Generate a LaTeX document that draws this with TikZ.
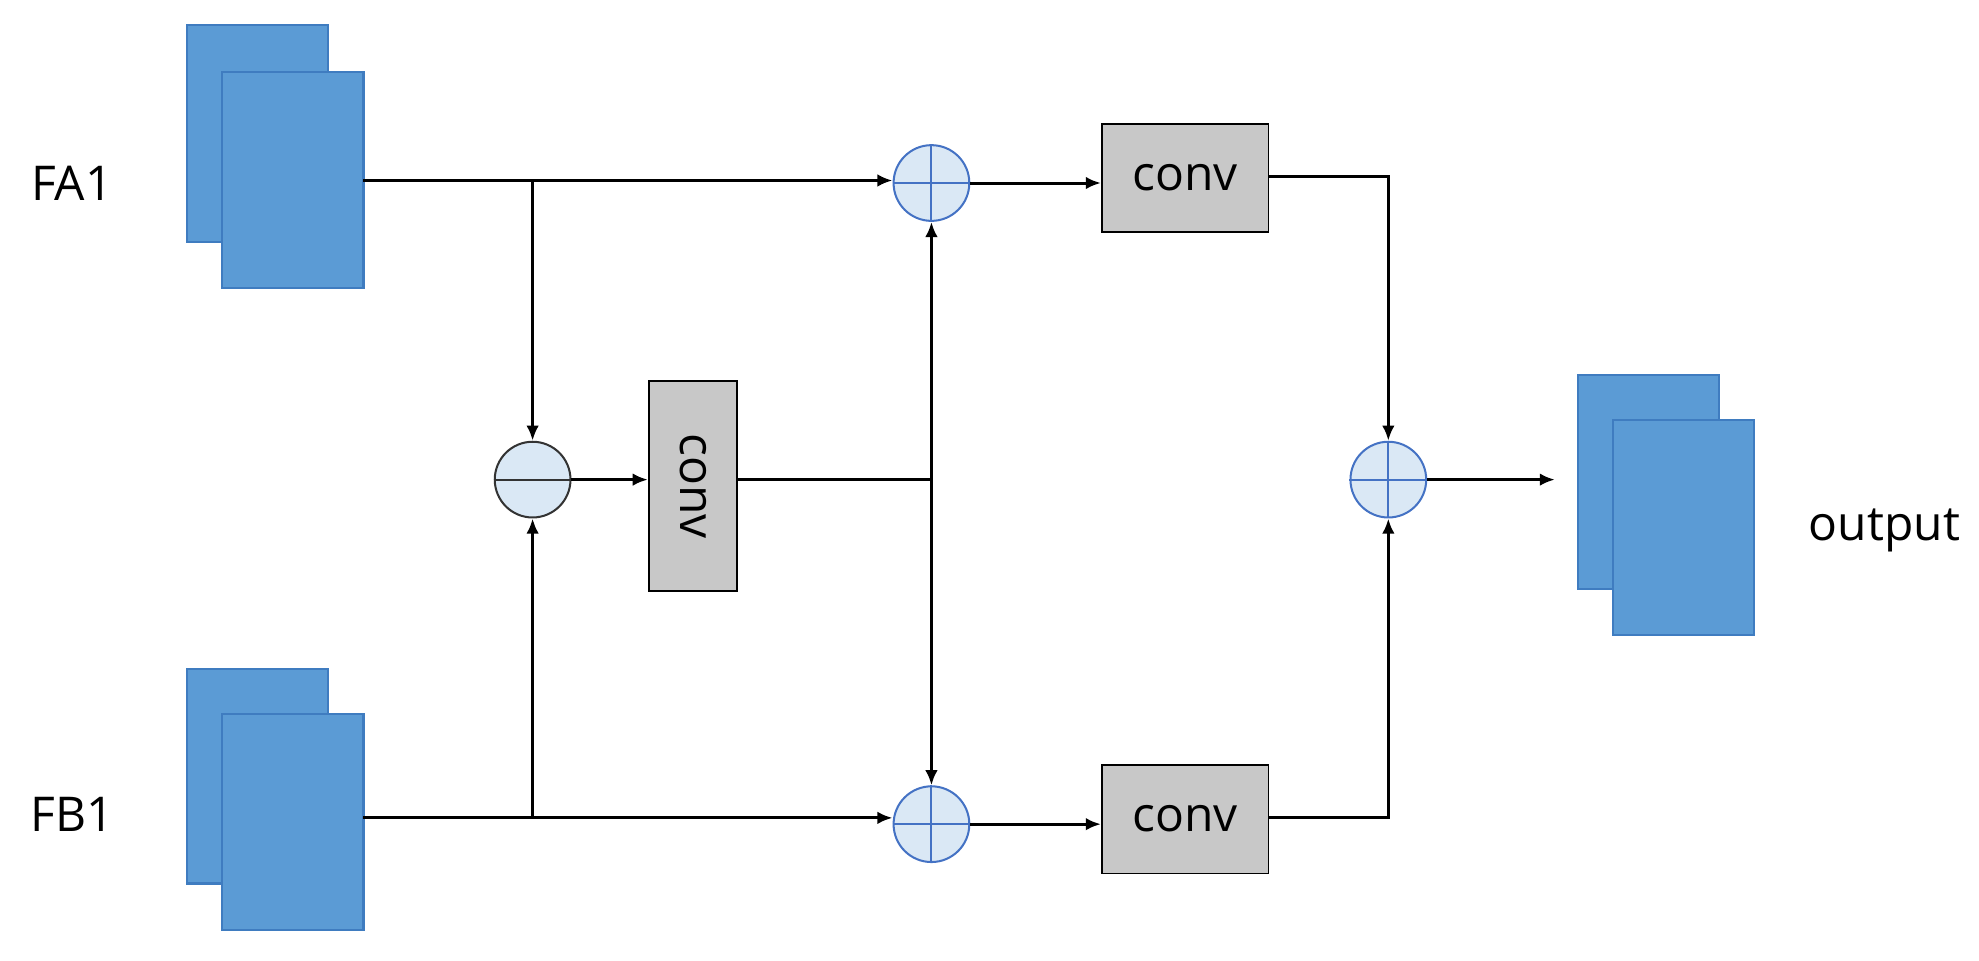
\documentclass[tikz,border=0pt]{standalone}
\usepackage{fontspec}
\setmainfont{Open Sans}
\usetikzlibrary{arrows.meta}
\definecolor{fm}{HTML}{5B9BD5}
\definecolor{fmb}{HTML}{3F7CC0}
\definecolor{cf}{HTML}{DAE8F5}
\definecolor{cb}{HTML}{4472C4}
\definecolor{gr}{HTML}{C8C8C8}
\begin{document}
\begin{tikzpicture}[x=0.5pt,y=-0.5pt,
 fmap/.style={fill=fm,draw=fmb,line width=0.8pt},
 op/.style={circle,fill=cf,draw=cb,line width=0.8pt,minimum size=30pt,inner sep=0pt},
 cv/.style={fill=gr,draw=black,line width=0.7pt,inner sep=0pt,font=\fontsize{19}{23}\selectfont},
 lab/.style={font=\fontsize{19}{23}\selectfont},
 ar/.style={-{Latex[length=6pt,width=5pt]},line width=1.2pt},
 ln/.style={line width=1.2pt}]
\useasboundingbox (0,0) rectangle (1568,761);
% feature maps
\draw[fmap] (148,20) rectangle (260,192); \draw[fmap] (176,57) rectangle (288,228);
\draw[fmap] (148,530) rectangle (260,700); \draw[fmap] (176,566) rectangle (288,737);
\draw[fmap] (1250,297) rectangle (1362,467); \draw[fmap] (1278,333) rectangle (1390,503);
\coordinate (fa) at (288,143);
\coordinate (fb) at (288,648);
\node[lab] (la) at (57,145) {FA1};
\node[lab] (lb) at (57,645) {FB1};
\node[lab] (lo) at (1493,420) {output};
% ops
\node[op] (p1) at (738,145) {};
\node[op] (p2) at (738,653) {};
\node[op] (p3) at (1100,380) {};
\node[op,draw=black!80] (m) at (422,380) {};
\foreach \n in {p1,p2,p3}{
 \draw[cb,line width=0.8pt] (\n.north) -- (\n.south) (\n.west) -- (\n.east);}
\draw[black!80,line width=0.8pt] (m.west) -- (m.east);
% convs
\node[cv,minimum width=66pt,minimum height=43pt] (c1) at (939,141) {conv};
\node[cv,minimum width=66pt,minimum height=43pt] (c2) at (939,649) {conv};
\node[cv,minimum width=35pt,minimum height=83pt] (c0) at (549,385) {};
\node[cv,draw=none,fill=none,rotate=-90] (c0t) at (549,385) {conv};
% connectors
\coordinate (j1) at (422,143);
\coordinate (j2) at (422,648);
\coordinate (j3) at (738,380);
\coordinate (k1) at (1100,140);
\coordinate (k2) at (1100,648);
\coordinate (oe) at (1232,380);
\draw[ar] (fa) -- (p1.west|-fa);
\draw[ar] (j1) -- (m.north);
\draw[ar] (fb) -- (p2.west|-fb);
\draw[ar] (j2) -- (m.south);
\draw[ar] (m.east) -- (c0.west|-m);
\draw[ln] (c0.east|-m) -- (j3);
\draw[ar] (j3) -- (p1.south);
\draw[ar] (j3) -- (p2.north);
\draw[ar] (p1.east) -- (c1.west|-p1);
\draw[ar] (p2.east) -- (c2.west|-p2);
\draw[ar] (c1.east|-k1) -- (k1) -- (p3.north);
\draw[ar] (c2.east|-k2) -- (k2) -- (p3.south);
\draw[ar] (p3.east) -- (oe);
\end{tikzpicture}
\end{document}
